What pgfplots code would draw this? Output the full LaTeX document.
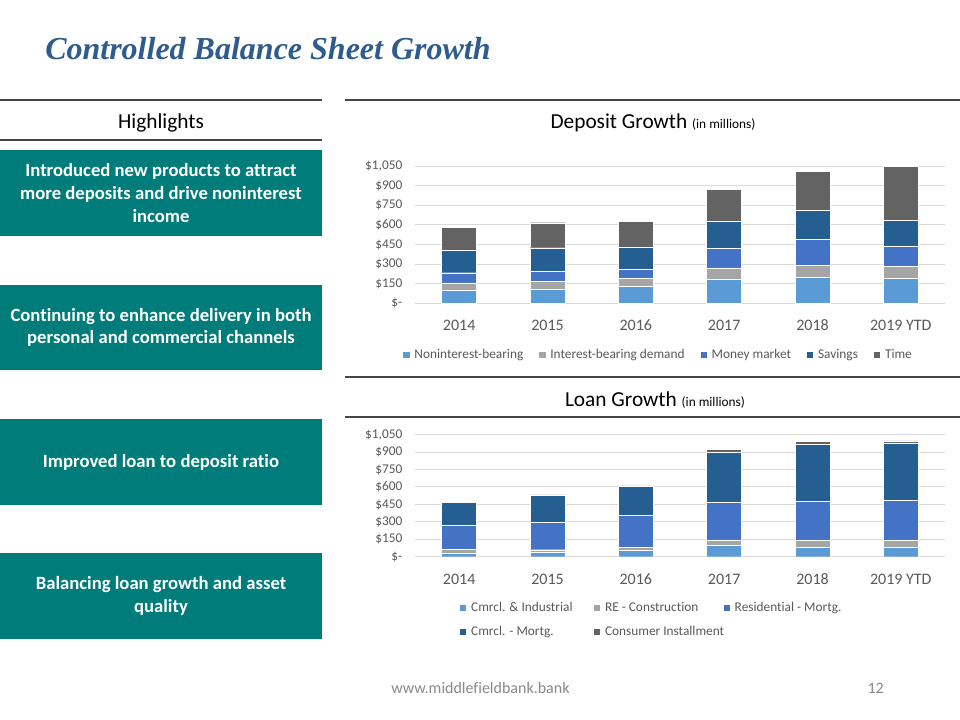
\documentclass[border=0pt]{standalone}
\usepackage{fontspec}
\setmainfont{Carlito}[Ligatures=NoCommon]
\newfontfamily\titlefont{Liberation Serif}
\usepackage{pgfplots}
\pgfplotsset{compat=1.18}
\definecolor{cNI}{RGB}{91,155,213}
\definecolor{cIB}{RGB}{165,165,165}
\definecolor{cMM}{RGB}{68,114,196}
\definecolor{cSV}{RGB}{37,94,145}
\definecolor{cTM}{RGB}{99,99,99}
\definecolor{boxteal}{RGB}{0,124,122}
\definecolor{gridgray}{RGB}{217,217,217}
\definecolor{tickgray}{RGB}{89,89,89}
\definecolor{titleblue}{RGB}{46,92,140}
\definecolor{linegray}{RGB}{70,70,70}
\definecolor{footgray}{RGB}{137,137,137}
\pgfplotsset{
  sq/.style={legend image code/.code={\path[##1,draw=none] (0pt,-2.4pt) rectangle (4.8pt,2.4pt);}},
  slidebars/.style={
    scale only axis, width=397.5pt,
    ybar stacked, bar width=26.25pt,
    xmin=-0.5, xmax=5.5, ymin=0, ymax=1050, enlargelimits=false,
    xtick={0,...,5}, xticklabels={2014,2015,2016,2017,2018,2019 YTD},
    ytick={0,150,...,1050},
    yticklabels={\$-,\$150,\$300,\$450,\$600,\$750,\$900,{\$1,050}},
    ymajorgrids, grid style={draw=gridgray, line width=0.75pt},
    axis x line*=bottom, axis y line*=left,
    y axis line style={draw=none},
    x axis line style={draw=gridgray, line width=0.75pt},
    major tick length=0pt,
    tick style={draw=none},
    yticklabel style={font=\fontsize{10}{12}\selectfont, text=tickgray, xshift=-6pt},
    xticklabel style={font=\fontsize{12}{14}\selectfont, text=tickgray, yshift=-8.5pt, text height=8.5pt, text depth=2pt},
    legend style={draw=none, fill=none, font=\fontsize{10}{12}\selectfont, text=tickgray,
      /tikz/every odd column/.append style={column sep=1.5pt},
      /tikz/every even column/.append style={column sep=10pt}},
    legend cell align=left,
    every axis plot/.append style={draw=white, line width=0.3pt},
  }
}
\begin{document}
\begin{tikzpicture}
\begin{scope}[x=0.75pt,y=-0.75pt]
  \path[fill=white] (0,0) rectangle (960,720);
  % title
  \node[anchor=base west, inner sep=0pt, font=\titlefont\bfseries\itshape\fontsize{24}{28}\selectfont, text=titleblue] at (45,60) {Controlled Balance Sheet Growth};
  % rules
  \draw[linegray, line width=1pt] (0,100) -- (322,100);
  \draw[linegray, line width=1pt] (0,140) -- (322,140);
  \draw[linegray, line width=1pt] (345,100) -- (960,100);
  \draw[linegray, line width=1pt] (345,377) -- (960,377);
  \draw[linegray, line width=1pt] (345,417) -- (960,417);
  % headers
  \node[anchor=base, inner sep=0pt, font=\fontsize{16}{19}\selectfont] at (161,129) {Highlights};
  \node[anchor=base, inner sep=0pt, font=\fontsize{16}{19}\selectfont] at (653,129) {Deposit Growth {\fontsize{10}{12}\selectfont(in millions)}};
  \node[anchor=base, inner sep=0pt, font=\fontsize{16}{19}\selectfont] at (655,406) {Loan Growth {\fontsize{10}{12}\selectfont(in millions)}};
  % teal boxes
  \fill[boxteal] (0,150) rectangle (322,236);
  \fill[boxteal] (0,285) rectangle (322,370);
  \fill[boxteal] (0,419) rectangle (322,505);
  \fill[boxteal] (0,553) rectangle (322,639);
  \begin{scope}[every node/.style={text=white, align=center, inner sep=0pt, font=\bfseries\fontsize{14}{17}\selectfont}]
    \node at (161,193) {Introduced new products to attract\\more deposits and drive noninterest\\income};
    \node at (161,327.5) {Continuing to enhance delivery in both\\personal and commercial channels};
    \node at (161,462) {Improved loan to deposit ratio};
    \node at (161,596) {Balancing loan growth and asset\\quality};
  \end{scope}
  % footer
  \node[anchor=base west, inner sep=0pt, font=\fontsize{12}{14}\selectfont, text=footgray] at (391,693) {www.middlefieldbank.bank};
  \node[anchor=base east, inner sep=0pt, font=\fontsize{12}{14}\selectfont, text=footgray] at (884,693) {12};
  \coordinate (depSW) at (415,303.5);
  \coordinate (loanSW) at (415,556.7);
\end{scope}

\begin{axis}[slidebars, at={(depSW)}, anchor=south west, height=103.1pt,
  legend columns=5, legend style={at={(-0.03,-0.3745)}, anchor=west}]
\addplot[fill=cNI, sq] coordinates {(0,99) (1,112) (2,130) (3,189) (4,199) (5,194)};
\addplot[fill=cIB, sq] coordinates {(0,59) (1,59) (2,61) (3,84) (4,92) (5,91)};
\addplot[fill=cMM, sq] coordinates {(0,77) (1,79) (2,74) (3,150) (4,198) (5,156)};
\addplot[fill=cSV, sq] coordinates {(0,175) (1,176) (2,168) (3,207) (4,222) (5,194)};
\addplot[fill=cTM, sq] coordinates {(0,169) (1,191) (2,192) (3,242) (4,301) (5,413)};
\legend{Noninterest-bearing, Interest-bearing demand, Money market, Savings, Time}
\end{axis}

\begin{axis}[slidebars, at={(loanSW)}, anchor=south west, height=91.5pt,
  legend columns=3, legend style={at={(0.077,-0.518)}, anchor=west, row sep=5.5pt,
    /tikz/every even column/.append style={column sep=14pt}}]
\addplot[fill=cNI, sq] coordinates {(0,30) (1,36) (2,55) (3,97) (4,80) (5,84)};
\addplot[fill=cIB, sq] coordinates {(0,33) (1,24) (2,28) (3,47) (4,58) (5,55)};
\addplot[fill=cMM, sq] coordinates {(0,210) (1,236) (2,270) (3,321) (4,341) (5,349)};
\addplot[fill=cSV, sq] coordinates {(0,192) (1,232) (2,252) (3,436) (4,491) (5,485)};
\addplot[fill=cTM, sq] coordinates {(0,4) (1,4) (2,4) (3,20) (4,20) (5,23)};
\legend{Cmrcl. \& Industrial, RE - Construction, Residential - Mortg., Cmrcl. - Mortg., \makebox[73pt][l]{Consumer Installment}}
\end{axis}
\pgfresetboundingbox
\path (0,0) rectangle (720pt,-540pt);
\end{tikzpicture}
\end{document}
